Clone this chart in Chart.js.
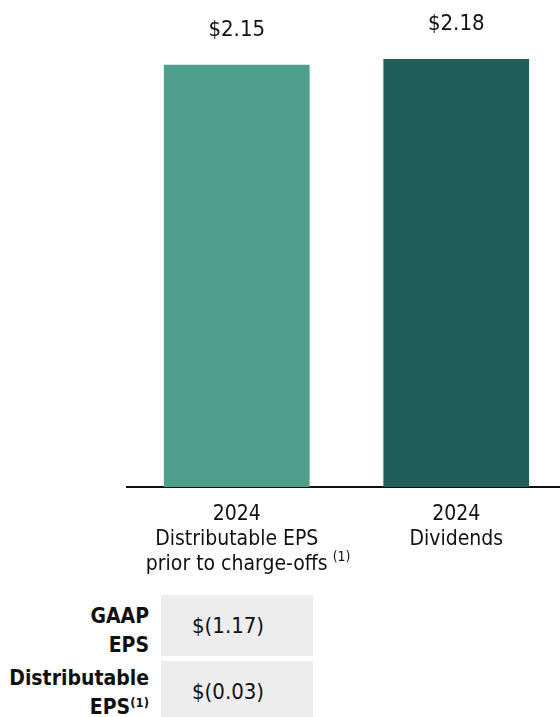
<!DOCTYPE html>
<html>
<head>
<meta charset="utf-8">
<script src="https://cdn.jsdelivr.net/npm/chart.js@4"></script>
<style>
  html, body { margin: 0; padding: 0; background: #fff; overflow: hidden; }
  body { width: 560px; height: 717px; position: relative; }
  #wrap { position: absolute; left: 0; top: 0; width: 566px; height: 590px; }
  #eps-table {
    font-family: "DejaVu Sans Condensed", "DejaVu Sans", sans-serif;
    color: #111;
  }
  .eps-label {
    position: absolute; left: 0; width: 149px; text-align: right;
    font-weight: bold; font-size: 21px; line-height: 29px;
  }
  .eps-label sup {
    font-size: 13px; line-height: 0; position: relative; top: 1px;
  }
  .eps-value {
    position: absolute; left: 161px; width: 152px; background: #ededed;
    font-size: 22px; box-sizing: border-box; padding-left: 31px;
    display: flex; align-items: center;
  }
</style>
</head>
<body>
<div id="wrap"><canvas id="eps-chart"></canvas></div>
<div id="eps-table"></div>
<script>
// 2024 EPS vs dividends, with the GAAP / distributable EPS strip underneath.

const CATEGORIES = [
  ["2024", "Distributable EPS", "prior to charge-offs"],
  ["2024", "Dividends"],
];
const FOOTNOTES = ["(1)", ""];
const VALUES = [2.15, 2.18];
const BAR_COLORS = ["#4ea08c", "#1f5e5b"];

const TABLE_LABELS = [
  ["GAAP", "EPS"],
  ["Distributable", "EPS<sup>(1)</sup>"],
];
const TABLE_VALUES = [-1.17, -0.03];

const FONT_FAMILY = '"DejaVu Sans Condensed", "DejaVu Sans", sans-serif';
const TICK_SIZE = 21;
const TICK_LINE = 25.2;
const TICK_PAD = 15;

function formatDollar(value) {
  const abs = Math.abs(value).toFixed(2);
  return value < 0 ? `$(${abs})` : `$${abs}`;
}

// values above each bar + footnote marks after the tick labels
const barExtras = {
  id: "barExtras",
  afterDraw(chart) {
    const { ctx } = chart;
    const meta = chart.getDatasetMeta(0);
    const xScale = chart.scales.x;
    ctx.save();
    ctx.fillStyle = "#111";
    ctx.font = `22px ${FONT_FAMILY}`;
    ctx.textAlign = "center";
    ctx.textBaseline = "middle";
    meta.data.forEach((bar, index) => {
      ctx.fillText(formatDollar(VALUES[index]), bar.x, bar.y - 35);
    });

    FOOTNOTES.forEach((note, index) => {
      if (!note) return;
      const lines = CATEGORIES[index];
      const last = lines[lines.length - 1];
      ctx.font = `${TICK_SIZE}px ${FONT_FAMILY}`;
      const half = ctx.measureText(last).width / 2;
      const x = xScale.getPixelForTick(index) + half + 5;
      const y = xScale.top + TICK_PAD + TICK_LINE * (lines.length - 0.5) - 8;
      ctx.font = `14px ${FONT_FAMILY}`;
      ctx.textAlign = "left";
      ctx.fillText(note, x, y);
    });
    ctx.restore();
  },
};

function renderTable() {
  const holder = document.getElementById("eps-table");
  const rows = [
    { top: 595, height: 61, labelTop: 602 },
    { top: 661, height: 60, labelTop: 664 },
  ];
  TABLE_LABELS.forEach((lines, index) => {
    const label = document.createElement("div");
    label.className = "eps-label";
    label.style.top = `${rows[index].labelTop}px`;
    label.innerHTML = lines.join("<br>");
    const value = document.createElement("div");
    value.className = "eps-value";
    value.style.top = `${rows[index].top}px`;
    value.style.height = `${rows[index].height}px`;
    value.textContent = formatDollar(TABLE_VALUES[index]);
    holder.appendChild(label);
    holder.appendChild(value);
  });
}

new Chart(document.getElementById("eps-chart"), {
  type: "bar",
  data: {
    labels: CATEGORIES,
    datasets: [
      {
        data: VALUES,
        backgroundColor: BAR_COLORS,
        barPercentage: 0.664,
        categoryPercentage: 1,
      },
    ],
  },
  options: {
    responsive: true,
    maintainAspectRatio: false,
    animation: false,
    layout: { padding: { left: 127, right: 0, top: 0, bottom: 0 } },
    plugins: { legend: { display: false }, tooltip: { enabled: false } },
    scales: {
      x: {
        grid: { display: false, drawTicks: false },
        border: { color: "#111", width: 2 },
        ticks: {
          color: "#111",
          padding: TICK_PAD,
          maxRotation: 0,
          font: {
            family: FONT_FAMILY,
            size: TICK_SIZE,
            lineHeight: TICK_LINE / TICK_SIZE,
          },
        },
        afterFit: (scale) => {
          scale.height = 103;
        },
      },
      y: {
        display: false,
        min: 0,
        max: 2.48,
      },
    },
  },
  plugins: [barExtras],
});

renderTable();
</script>
</body>
</html>
